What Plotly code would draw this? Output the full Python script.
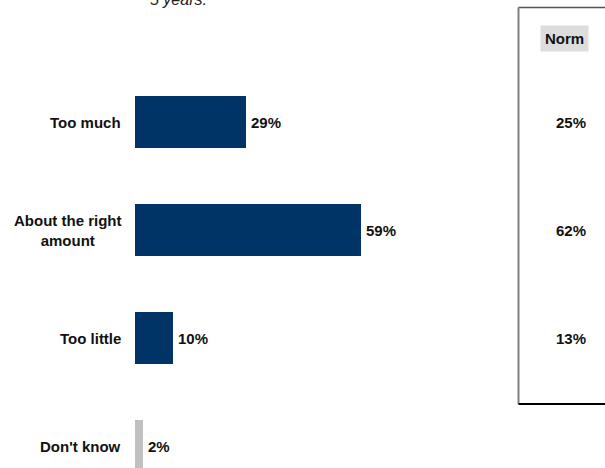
import plotly.graph_objects as go

categories = ["Too much", "About the right<br>amount", "Too little", "Don't know"]
values = [29, 59, 10, 2]
norm_values = [25, 62, 13]
bar_colors = ["#003366", "#003366", "#003366", "#c0c0c0"]

W, H = 605, 468
FONT = "Liberation Sans, Arial, sans-serif"
TEXT_SIZE = 15

positions = list(range(len(categories)))

fig = go.Figure()
fig.add_trace(go.Bar(
    x=values,
    y=positions,
    orientation="h",
    width=0.48,
    marker=dict(color=bar_colors, line=dict(width=0)),
    hoverinfo="skip",
))

annotations = []
# category labels, right aligned to the left of the bars
for pos, cat in zip(positions, categories):
    annotations.append(dict(
        x=123 / W, xref="paper", xanchor="right",
        y=pos, yref="y", yanchor="middle",
        text=f"<b>{cat}</b>", showarrow=False, align="center",
        font=dict(family=FONT, size=TEXT_SIZE, color="#111111"),
    ))
# value labels at bar ends
for pos, val in zip(positions, values):
    annotations.append(dict(
        x=val, xref="x", xanchor="left", xshift=3,
        y=pos, yref="y", yanchor="middle",
        text=f"<b>{val}%</b>", showarrow=False,
        font=dict(family=FONT, size=TEXT_SIZE, color="#111111"),
    ))
# norm column values
for pos, val in zip(positions, norm_values):
    annotations.append(dict(
        x=571 / W, xref="paper", xanchor="center",
        y=pos, yref="y", yanchor="middle",
        text=f"<b>{val}%</b>", showarrow=False,
        font=dict(family=FONT, size=TEXT_SIZE, color="#111111"),
    ))
# norm header
annotations.append(dict(
    x=564 / W, xref="paper", xanchor="center",
    y=1 - 38.5 / H, yref="paper", yanchor="middle",
    text="<b>Norm</b>", showarrow=False,
    bgcolor="#dddddd", borderpad=4,
    font=dict(family=FONT, size=TEXT_SIZE, color="#111111"),
))
# question text trailing off the top
annotations.append(dict(
    x=148 / W, xref="paper", xanchor="left",
    y=1 + 0.5 / H, yref="paper", yanchor="middle",
    text="<i>5 years.</i>", showarrow=False,
    font=dict(family=FONT, size=16, color="#222222"),
))

shapes = [
    # norm panel frame
    dict(type="line", xref="paper", yref="paper",
         x0=518.5 / W, x1=1, y0=1 - 7.5 / H, y1=1 - 7.5 / H,
         line=dict(color="#555555", width=1.5)),
    dict(type="line", xref="paper", yref="paper",
         x0=518.5 / W, x1=518.5 / W, y0=1 - 7.5 / H, y1=1 - 404 / H,
         line=dict(color="#808080", width=2)),
    dict(type="line", xref="paper", yref="paper",
         x0=518.5 / W, x1=1, y0=1 - 404 / H, y1=1 - 404 / H,
         line=dict(color="#000000", width=2)),
]

pitch = 108.0
first_center = 122.0
y_top = -first_center / pitch
y_bottom = (H - first_center) / pitch

fig.update_layout(
    width=W, height=H,
    margin=dict(l=0, r=0, t=0, b=0),
    paper_bgcolor="white", plot_bgcolor="white",
    showlegend=False,
    xaxis=dict(domain=[135 / W, 518 / W], range=[0, 100], visible=False, fixedrange=True),
    yaxis=dict(domain=[0, 1], range=[y_bottom, y_top], visible=False, fixedrange=True),
    annotations=annotations,
    shapes=shapes,
    bargap=0,
)

fig.write_html("out.html")
